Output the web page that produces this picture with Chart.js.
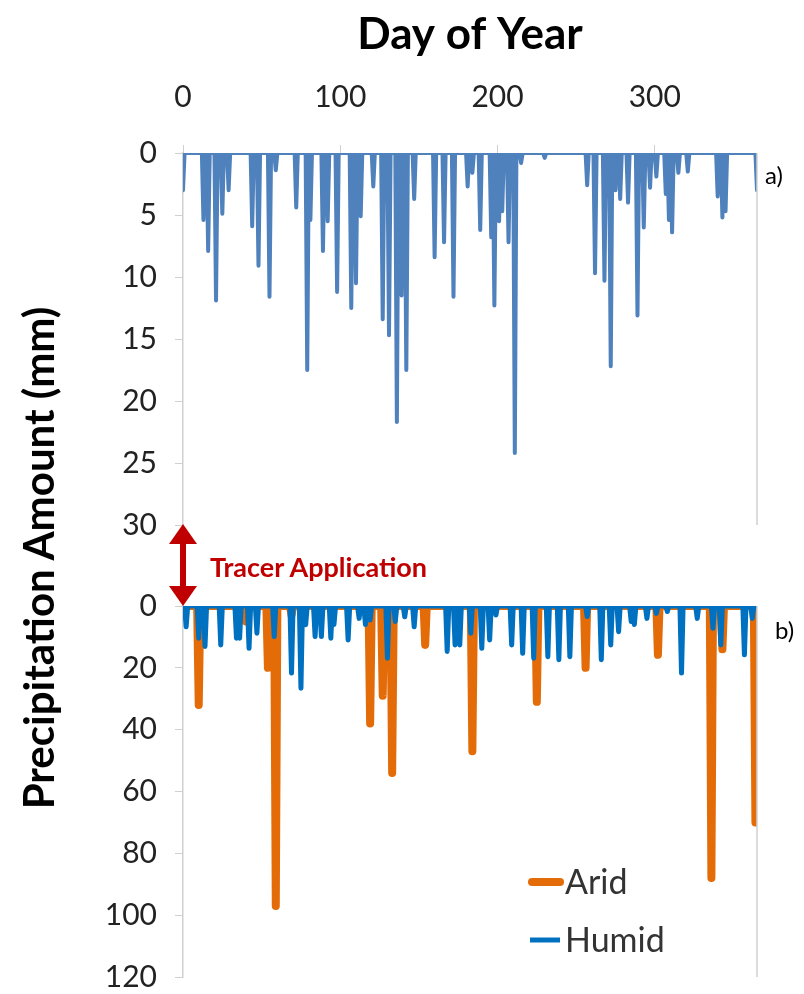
<!DOCTYPE html>
<html>
<head>
<meta charset="utf-8">
<script src="https://cdn.jsdelivr.net/npm/chart.js@4"></script>
<style>
  body { margin: 0; background: #fff; width: 804px; height: 994px; position: relative; overflow: hidden; font-family: Lato, "Open Sans", sans-serif; }
  .wrap { position: absolute; left: 0; width: 804px; }
  #topWrap { top: 0; height: 561px; }
  #botWrap { top: 570px; height: 443px; }
  .lbl { position: absolute; white-space: nowrap; }
</style>
</head>
<body>
<div class="wrap" id="topWrap"><canvas id="topChart"></canvas></div>
<div class="wrap" id="botWrap"><canvas id="botChart"></canvas></div>

<div class="lbl" style="left:-262px;top:533px;width:600px;text-align:center;font-size:42px;font-weight:bold;transform:rotate(-90deg);color:#000;">Precipitation Amount (mm)</div>
<div class="lbl" style="left:765px;top:160px;font-size:24px;">a)</div>
<div class="lbl" style="left:775px;top:615px;font-size:24px;">b)</div>
<svg class="lbl" style="left:165px;top:522px;" width="40" height="88">
  <line x1="18" y1="16" x2="18" y2="70" stroke="#c00000" stroke-width="6"/>
  <polygon points="18,2 4,22 32,22" fill="#c00000"/>
  <polygon points="18,84 4,64 32,64" fill="#c00000"/>
</svg>
<div class="lbl" style="left:210px;top:550px;font-size:27px;font-weight:bold;color:#c00000;">Tracer Application</div>
<svg class="lbl" style="left:526px;top:862px;" width="40" height="100">
  <line x1="6" y1="20" x2="34" y2="20" stroke="#e36c09" stroke-width="8" stroke-linecap="round"/>
  <line x1="4" y1="78" x2="34" y2="78" stroke="#0070c0" stroke-width="5"/>
</svg>
<div class="lbl" style="left:565px;top:860px;font-size:34px;color:#333;">Arid</div>
<div class="lbl" style="left:565px;top:918px;font-size:34px;color:#333;">Humid</div>

<script>
// top panel (a): day, mm
const topDays = [0, 13, 16, 21, 25, 29, 44, 48, 55, 59, 72, 79, 81, 89, 92, 98, 107, 110, 113, 121, 127, 131, 136, 139, 142, 147,
  160, 166, 172, 181, 184, 189, 196, 198, 201, 203, 207, 211, 215, 230, 257, 262, 268, 272, 275, 278, 283, 289, 293, 297,
  301, 307, 309, 311, 315, 321, 340, 343, 345, 365];
const topVals = [3, 5.4, 7.9, 11.9, 4.9, 3, 5.9, 9.1, 11.6, 1.4, 4.4, 17.5, 5.4, 7.9, 5.5, 11.2, 12.5, 10.5, 5.1, 2.7, 13.4, 14.7, 21.7, 11.5, 17.5, 3.7,
  8.4, 7.2, 11.6, 2.7, 1.6, 6.2, 6.8, 12.3, 5.5, 4.7, 7.2, 24.2, 0.8, 0.4, 2.6, 9.7, 10.3, 17.2, 3, 3.7, 4, 13.1, 6, 2.8,
  1.9, 3.3, 5.4, 6.4, 1.6, 1.5, 3.5, 5.2, 4.7, 3];

// bottom panel (b)
const aridDays = [10, 40, 54, 59, 69, 119, 127, 133, 154, 184, 225, 256, 302, 336, 343, 364];
const aridVals = [32, 5, 20, 97, 3, 38, 29, 54, 12.6, 47, 31, 20, 15.8, 88, 14, 70];
const humidDays = [2, 10, 14, 24, 34, 36, 42, 47, 58, 69, 75, 78, 84, 88, 94, 96, 105, 112, 116, 119, 130, 135, 141, 147,
  168, 173, 176, 183, 190, 195, 199, 209, 216, 223, 232, 239, 246, 257, 266, 272, 277, 285, 287, 295, 301, 308, 317, 327,
  337, 342, 357, 362];
const humidVals = [6.7, 10.4, 13.1, 12.6, 10.4, 10.4, 13.7, 8.8, 9.9, 21.7, 26.6, 6.1, 9.9, 9.9, 10.4, 6, 11, 4, 6, 4.5, 16.9, 5, 3.5, 6.7,
  14.7, 12.6, 12.6, 8.8, 13.7, 11, 2.9, 12.6, 15.3, 16.9, 16.4, 17.4, 16.4, 3.4, 17.4, 12.6, 8.3, 5, 6, 4, 2.4, 1.8, 21.7, 4,
  7.2, 12.6, 15.8, 4];

const xTicks = [0, 100, 200, 300];
const topYTicks = [0, 5, 10, 15, 20, 25, 30];
const botYTicks = [0, 20, 40, 60, 80, 100, 120];

// dry days are zero
function daily(days, vals) {
  const out = [];
  for (let d = 0; d <= 365; d++) {
    const i = days.indexOf(d);
    out.push({ x: d, y: i >= 0 ? vals[i] : 0 });
  }
  return out;
}

const tickFont = { family: 'Lato', size: 30 };

const rightBorder = {
  id: 'rightBorder',
  afterDraw(chart) {
    const a = chart.chartArea, c = chart.ctx;
    c.save();
    c.strokeStyle = '#d0d0d0';
    c.lineWidth = 1.5;
    c.beginPath();
    c.moveTo(a.right, a.top);
    c.lineTo(a.right, a.bottom);
    c.stroke();
    c.restore();
  }
};

function yAxis(ticks) {
  return {
    type: 'linear', reverse: true, min: ticks[0], max: ticks[ticks.length - 1],
    afterBuildTicks: s => { s.ticks = ticks.map(v => ({ value: v })); },
    afterFit: s => { s.width = 183; },
    ticks: { font: tickFont, color: '#222', padding: 18 },
    grid: { drawOnChartArea: false, color: '#d0d0d0', tickLength: 8 },
    border: { color: '#d0d0d0', width: 1.5 }
  };
}

new Chart(document.getElementById('topChart'), {
  type: 'line',
  data: {
    datasets: [{
      data: daily(topDays, topVals),
      borderColor: '#4f81bd', borderWidth: 4, pointRadius: 0, tension: 0,
      borderJoinStyle: 'round', borderCapStyle: 'round'
    }]
  },
  options: {
    responsive: true, maintainAspectRatio: false, animation: false,
    layout: { padding: { right: 47, bottom: 5 } },
    plugins: { legend: { display: false }, tooltip: { enabled: false } },
    scales: {
      x: {
        type: 'linear', position: 'top', min: 0, max: 365,
        afterBuildTicks: s => { s.ticks = xTicks.map(v => ({ value: v })); },
        afterFit: s => { s.height = 153; },
        ticks: { font: tickFont, color: '#222', padding: 30 },
        title: { display: true, text: 'Day of Year', font: { family: 'Lato', size: 44, weight: 'bold' }, color: '#000', padding: { top: 8, bottom: 6 } },
        grid: { drawOnChartArea: false, color: '#d0d0d0', tickLength: 8 },
        border: { display: false }
      },
      y: yAxis(topYTicks)
    }
  },
  plugins: [rightBorder]
});

new Chart(document.getElementById('botChart'), {
  type: 'line',
  data: {
    datasets: [
      {
        data: daily(aridDays, aridVals), order: 2,
        borderColor: '#e36c09', borderWidth: 8, pointRadius: 0, tension: 0,
        borderJoinStyle: 'round', borderCapStyle: 'round'
      },
      {
        data: daily(humidDays, humidVals), order: 1,
        borderColor: '#0070c0', borderWidth: 5, pointRadius: 0, tension: 0,
        borderJoinStyle: 'round', borderCapStyle: 'round'
      }
    ]
  },
  options: {
    responsive: true, maintainAspectRatio: false, animation: false,
    layout: { padding: { top: 0, right: 47, bottom: 0 } },
    plugins: { legend: { display: false }, tooltip: { enabled: false } },
    scales: {
      x: { type: 'linear', min: 0, max: 365, display: false },
      y: yAxis(botYTicks)
    }
  },
  plugins: [rightBorder]
});
</script>
</body>
</html>
